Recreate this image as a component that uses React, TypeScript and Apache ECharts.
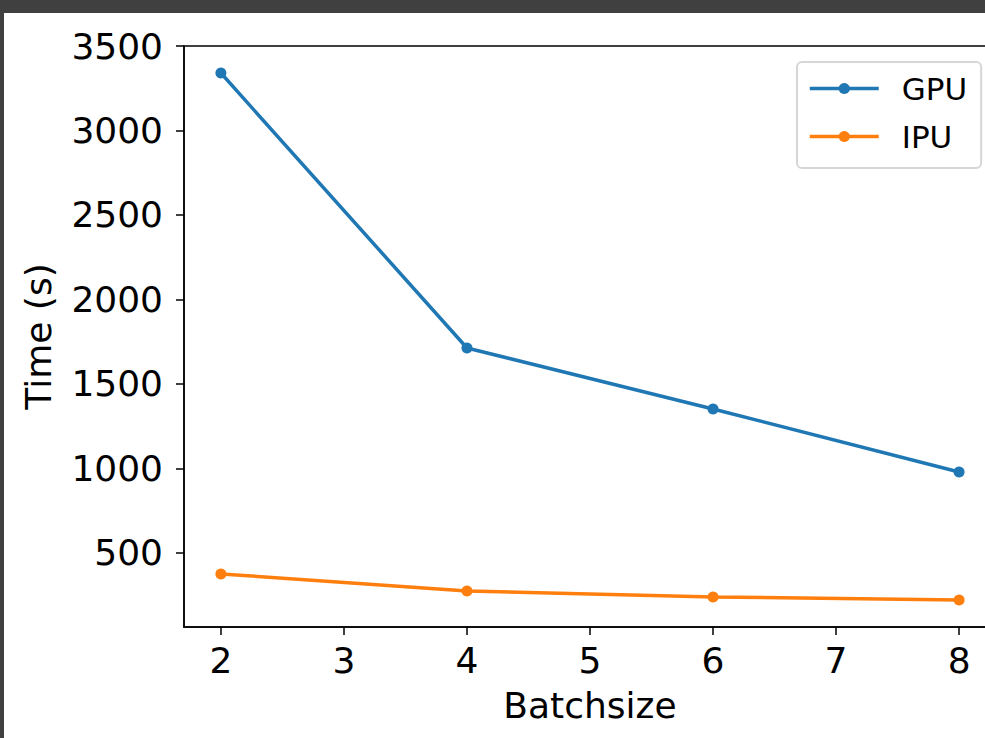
import React, { useEffect, useRef } from "react";
import * as echarts from "echarts";

const batchSizes = [2, 4, 6, 8];
const gpuTimes = [3340, 1713, 1352, 979];
const ipuTimes = [376, 275, 240, 222];
const xTicks = [2, 3, 4, 5, 6, 7, 8];
const yTicks = [500, 1000, 1500, 2000, 2500, 3000, 3500];

const FONT = "DejaVu Sans";

export default function App() {
  const ref = useRef<HTMLDivElement>(null);
  useEffect(() => {
    if (!ref.current) return;
    const chart = echarts.init(ref.current, null, { renderer: "svg" });
    chart.setOption({
      animation: false,
      backgroundColor: "#ffffff",
      grid: {
        left: 180,
        top: 33,
        bottom: 111,
        right: 0,
        show: true,
        borderColor: "#000000",
        borderWidth: 1.5,
        backgroundColor: "transparent",
      },
      legend: {
        orient: "vertical",
        left: 793,
        top: 49,
        padding: [11, 14, 16, 11],
        backgroundColor: "#ffffff",
        borderColor: "#d6d6d6",
        borderWidth: 2,
        borderRadius: 5,
        itemWidth: 69,
        itemHeight: 14,
        itemGap: 17,
        lineStyle: { width: 3.5 },
        textStyle: {
          fontFamily: FONT,
          fontSize: 31,
          color: "#000",
          lineHeight: 30,
          padding: [0, 0, 0, 18],
        },
        data: ["GPU", "IPU"],
      },
      xAxis: {
        type: "value",
        min: 1.7,
        max: 8.3,
        name: "Batchsize",
        nameLocation: "middle",
        nameGap: 60,
        nameTextStyle: { fontFamily: FONT, fontSize: 36, color: "#000" },
        splitLine: { show: false },
        axisLine: { show: true, lineStyle: { color: "#000", width: 1.5 } },
        axisTick: {
          show: true,
          inside: false,
          length: 8,
          lineStyle: { color: "#000", width: 1.5 },
          customValues: xTicks,
        },
        axisLabel: {
          fontFamily: FONT,
          fontSize: 36,
          color: "#000",
          margin: 15,
          customValues: xTicks,
          formatter: (v: number) => String(v),
        },
      },
      yAxis: {
        type: "value",
        min: 62,
        max: 3500,
        name: "Time (s)",
        nameLocation: "middle",
        nameGap: 128,
        nameTextStyle: { fontFamily: FONT, fontSize: 36, color: "#000" },
        splitLine: { show: false },
        axisLine: { show: true, lineStyle: { color: "#000", width: 1.5 } },
        axisTick: {
          show: true,
          inside: false,
          length: 8,
          lineStyle: { color: "#000", width: 1.5 },
          customValues: yTicks,
        },
        axisLabel: {
          fontFamily: FONT,
          fontSize: 36,
          color: "#000",
          margin: 21,
          customValues: yTicks,
          formatter: (v: number) => String(v),
        },
      },
      series: [
        {
          name: "GPU",
          type: "line",
          data: batchSizes.map((b, i) => [b, gpuTimes[i]]),
          symbol: "circle",
          symbolSize: 11,
          lineStyle: { width: 3.5, color: "#1f77b4" },
          itemStyle: { color: "#1f77b4" },
        },
        {
          name: "IPU",
          type: "line",
          data: batchSizes.map((b, i) => [b, ipuTimes[i]]),
          symbol: "circle",
          symbolSize: 11,
          lineStyle: { width: 3.5, color: "#ff7f0e" },
          itemStyle: { color: "#ff7f0e" },
        },
      ],
    });
    return () => chart.dispose();
  }, []);

  return (
    <div
      style={{
        position: "fixed",
        left: 0,
        top: 0,
        width: 985,
        height: 738,
        background: "#404040",
        overflow: "hidden",
      }}
    >
      <div
        ref={ref}
        style={{ position: "absolute", left: 4, top: 13, width: 992, height: 725 }}
      />
    </div>
  );
}
